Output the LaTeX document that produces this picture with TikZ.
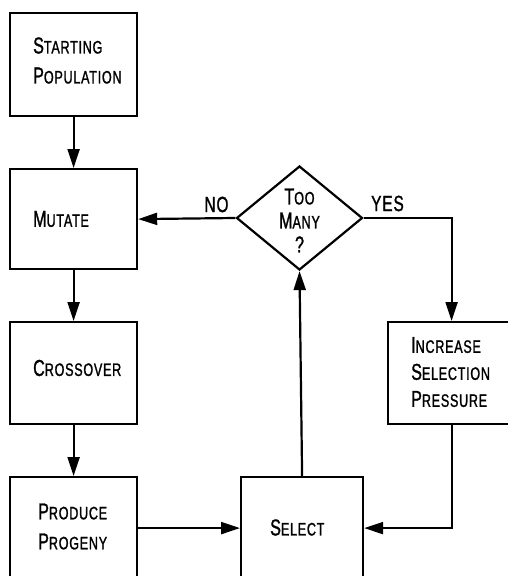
\documentclass[tikz,border=0pt]{standalone}
\usepackage{fontspec}
\newfontfamily\lbl[FakeStretch=0.7,FakeBold=1.2,LetterSpace=4]{Liberation Sans}
\usetikzlibrary{arrows.meta,shapes.geometric}
\newcommand\Bg[1]{{\fontsize{23}{23}\selectfont #1}}
\begin{document}
\begin{tikzpicture}[x=1pt,y=-1pt,
  box/.style={draw,line width=2.2pt,minimum width=127pt,inner sep=0pt,anchor=north west},
  txt/.style={font=\lbl\fontsize{18}{30}\selectfont,align=left,inner sep=0pt,anchor=west},
  ctxt/.style={font=\lbl\fontsize{18}{24}\selectfont,align=center,inner sep=0pt},
  yn/.style={font=\lbl\fontsize{22}{24}\selectfont,inner sep=0pt},
  conn/.style={line width=2.2pt},
  arr/.style={conn,-{Triangle[length=19pt,width=12pt]}}]
\useasboundingbox (0,0) rectangle (508,576);
\clip (0,0) rectangle (508,576);
% boxes
\node[box,minimum height=103pt] (start) at (9,12) {};
\node[box,minimum height=100pt] (mutate) at (9,168) {};
\node[box,minimum height=102pt] (cross) at (9,321) {};
\node[box,minimum height=102pt] (prod) at (9,476) {};
\node[box,minimum width=122pt,minimum height=102pt] (select) at (240,476) {};
\node[box,minimum height=102pt] (incr) at (387,321) {};
\node[draw,line width=2.2pt,shape=diamond,minimum width=126pt,minimum height=104pt,inner sep=0pt] (dia) at (299.5,218) {};
% texts
\node[txt] (startT) at (33,60.5) {\Bg{S}TARTING\\\Bg{P}OPULATION};
\node[txt] (mutateT) at (33,219) {\Bg{M}UTATE};
\node[txt] (crossT) at (33,368) {\Bg{C}ROSSOVER};
\node[txt] (prodT) at (38,526.5) {\Bg{P}RODUCE\\\Bg{P}ROGENY};
\node[txt] (selectT) at (270,527.5) {\Bg{S}ELECT};
\node[txt,font=\lbl\fontsize{18}{27}\selectfont] (incrT) at (411,372) {\Bg{I}NCREASE\\\Bg{S}ELECTION\\\Bg{P}RESSURE};
\node[ctxt] (diaT) at (299.5,220.5) {\Bg{T}OO\\\Bg{M}ANY\\\Bg{?}};
\node[yn] (no) at (216.5,204.5) {NO};
\node[yn] (yes) at (387.5,203.5) {YES};
% connectors
\draw[arr] (start.south) -- (mutate.north);
\draw[arr] (mutate.south) -- (cross.north);
\draw[arr] (cross.south) -- (prod.north);
\draw[arr] (prod.east) -- (select.west);
\draw[arr] (select.north) -- (dia.south);
\draw[arr] (dia.west) -- (mutate.east);
\draw[arr] (dia.east) -| (incr.north);
\draw[arr] (incr.south) |- (select.east);
\end{tikzpicture}
\end{document}
